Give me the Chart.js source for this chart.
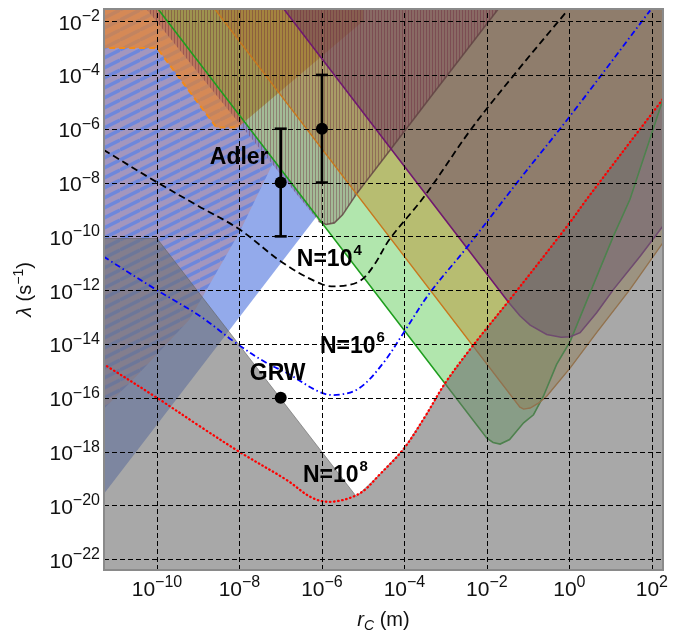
<!DOCTYPE html>
<html>
<head>
<meta charset="utf-8">
<script src="https://cdn.jsdelivr.net/npm/chart.js@4.4.0/dist/chart.umd.min.js"></script>
<style>
  html, body { margin: 0; padding: 0; background: #fff; }
  #wrap { width: 681px; height: 635px; }
</style>
</head>
<body>
<div id="wrap"><canvas id="chart" width="681" height="635"></canvas></div>
<script>
// all values are exponents: [log10 rC (m), log10 lambda (s^-1)]
const xTickExp = [-10, -8, -6, -4, -2, 0, 2];
const yTickExp = [-22, -20, -18, -16, -14, -12, -10, -8, -6, -4, -2];
const xRange = [-11.285, 2.27];
const yRange = [-22.4, -1.55];

// N-cluster curves
const curveN4 = [[-11.3, -6.78], [-10, -7.99], [-9, -8.87], [-8, -9.74], [-6.95, -10.98], [-6, -11.78],
  [-5.57, -11.85], [-5.08, -11.66], [-4.75, -11.1], [-4.36, -10.11], [-3.51, -8.5], [-2.38, -6.01],
  [-1.29, -3.9], [-0.06, -1.63]];
const curveN6 = [[-11.3, -10.75], [-10, -12.0], [-8.96, -12.96], [-8.07, -13.98], [-7.35, -14.7],
  [-6.86, -15.07], [-6.0, -15.82], [-5.57, -15.88], [-5.08, -15.63], [-4.51, -14.7], [-4.02, -13.58],
  [-3.38, -12.09], [-2.49, -10.42], [-1.2, -7.87], [0.02, -5.52], [1.96, -1.6]];
const curveN8 = [[-11.3, -14.74], [-10, -16], [-8.96, -17.06], [-8, -18.01], [-6.86, -19.05],
  [-6.22, -19.73], [-5.73, -19.86], [-5.08, -19.55], [-4.6, -18.85], [-4.02, -17.9], [-3.5, -16.7],
  [-3.01, -15.45], [-2.37, -14.12], [-1.44, -12.34], [-0.02, -9.55], [0.42, -8.62], [2.3, -4.83]];

// excluded / bounded regions
const grayRegion = [[-12, -10.08], [-10, -10.08], [-5.17, -19.66], [-5.08, -19.55], [-4.6, -18.85],
  [-4.02, -17.9], [-3.5, -16.7], [-3.01, -15.45], [-2.37, -14.12], [-1.44, -12.34], [-0.02, -9.55],
  [0.42, -8.62], [2.3, -4.83], [3, -3.4], [3, -24], [-12, -24]];
const blueRegion = [[-12, -21], [-6.125, -9.25], [-10.25, -1.0], [-12, -1.0]];
const stripedRegion = [[-12, -1.0], [-12, -17.5], [-10.5, -15.2], [-9.21, -13.09], [-8, -9.85],
  [-7.2, -7.32], [-10.55, -1.0]];
const orangeRegion = [[-12, -1.0], [-12, -3], [-10, -3], [-8.56, -5.95], [-8.04, -5.95], [-5, -2.0], [-5, -1.0]];
const orangeEdge = [[-11.4, -3], [-10, -3], [-8.56, -5.95], [-8.04, -5.95]];
const greenRegion = [[-10.25, -1.0], [-2.0, -17.5], [-1.85, -17.66], [-1.68, -17.72], [-1.45, -17.55],
  [-1.11, -16.93], [-0.87, -16.63], [-0.63, -15.94], [-0.31, -14.76], [0.02, -13.9], [0.5, -12.1],
  [1.07, -9.98], [1.47, -8.62], [2.27, -4.9], [2.7, -3.2], [3, -1.0]];
const amberRegion = [[-8.875, -1.0], [-1.2, -16.35], [-1.11, -16.42], [-0.95, -16.38], [-0.75, -16.2],
  [-0.55, -15.94], [0.02, -14.89], [0.66, -13.58], [1.47, -11.97], [2.27, -10.23], [3, -8.7], [3, -1.0]];
const purpleRegion = [[-7.2, -1.0], [-1.48, -12.44], [-1.2, -12.95], [-0.95, -13.3], [-0.55, -13.65],
  [-0.2, -13.75], [0.02, -13.73], [0.26, -13.58], [0.66, -12.84], [1.07, -11.97], [1.72, -10.73],
  [2.27, -9.61], [3, -8.2], [3, -1.0]];
const hatchedEdge = [[-6.08, -9.44], [-5.9, -9.56], [-5.7, -9.5], [-5.5, -9.2], [-5.17, -8.44],
  [-4.36, -6.82], [-3.31, -4.71], [-2.26, -2.62], [-1.45, -1.0]];
const hatchedRegion = [[-10.55, -1.0]].concat(hatchedEdge);

// Adler and GRW values
const adlerPoints = [[-7, -8], [-6, -6]];
const adlerBars = [[[-7, -10], [-7, -6]], [[-6, -8], [-6, -4]]];
const grwPoint = [[-7, -16]];

const textLabels = [
  { text: 'Adler', sup: '', x: -8.72, y: -7.31 },
  { text: 'GRW', sup: '', x: -7.75, y: -15.32 },
  { text: 'N=10', sup: '4', x: -6.61, y: -11.11 },
  { text: 'N=10', sup: '6', x: -6.05, y: -14.35 },
  { text: 'N=10', sup: '8', x: -6.46, y: -19.12 }
];

const FONT = '"Liberation Sans", Arial, sans-serif';

const pts = arr => arr.map(([a, b]) => ({ x: 10 ** a, y: 10 ** b }));

function stripePattern() {
  const c = document.createElement('canvas');
  c.width = 20; c.height = 10;
  const g = c.getContext('2d');
  g.fillStyle = 'rgba(200,110,95,0.32)';
  g.fillRect(0, 0, 20, 10);
  g.lineWidth = 3.5;
  g.globalCompositeOperation = 'destination-out';
  for (let k = -1; k <= 1; k++) {
    g.beginPath(); g.moveTo(0, 10 + 10 * k); g.lineTo(20, 10 * k); g.stroke();
  }
  g.globalCompositeOperation = 'source-over';
  g.strokeStyle = 'rgba(40,70,190,0.35)';
  for (let k = -1; k <= 1; k++) {
    g.beginPath(); g.moveTo(0, 10 + 10 * k); g.lineTo(20, 10 * k); g.stroke();
  }
  return g.createPattern(c, 'repeat');
}

function hatchPattern() {
  const c = document.createElement('canvas');
  c.width = 3; c.height = 1;
  const g = c.getContext('2d');
  g.fillStyle = 'rgba(115,35,70,0.22)';
  g.fillRect(0, 0, 3, 1);
  g.clearRect(0, 0, 1, 1);
  g.fillStyle = 'rgba(105,30,60,0.5)';
  g.fillRect(0, 0, 1, 1);
  return g.createPattern(c, 'repeat');
}

function region(arr, color, extra) {
  return Object.assign({
    data: pts(arr), backgroundColor: color, borderColor: 'rgba(0,0,0,0)', borderWidth: 1,
    fill: 'shape', pointRadius: 0, tension: 0
  }, extra || {});
}

function outline(arr, color, width, extra) {
  return Object.assign({
    data: pts(arr), borderColor: color, borderWidth: width, fill: false, pointRadius: 0, tension: 0
  }, extra || {});
}

function curve(arr, color, dash, width, cap) {
  return {
    data: pts(arr), borderColor: color, borderWidth: width, borderDash: dash, borderCapStyle: cap || 'butt',
    fill: false, pointRadius: 0, tension: 0.35
  };
}

// bottom to top
const layers = [
  region(blueRegion, 'rgba(40,85,215,0.5)'),
  region(stripedRegion, stripePattern()),
  region(orangeRegion, 'rgba(240,130,30,0.65)'),
  region(greenRegion, 'rgba(50,190,40,0.38)'),
  region(amberRegion, 'rgba(190,140,40,0.45)'),
  region(purpleRegion, 'rgba(103,61,103,0.5)'),
  region(hatchedRegion, hatchPattern()),
  outline(orangeEdge, '#f08a1a', 2, { borderDash: [6, 4] }),
  outline(hatchedEdge, 'rgba(95,65,65,0.8)', 1.6),
  outline(greenRegion.slice(0, 15), '#1e9e1e', 1.6),
  outline(amberRegion.slice(0, 11), '#c8781e', 1.4),
  outline(purpleRegion.slice(0, 13), '#701870', 1.6),
  region(grayRegion, 'rgba(110,110,110,0.6)', { borderColor: 'rgba(100,100,100,0.6)' }),
  curve(curveN4, '#000', [7, 4], 1.8),
  curve(curveN6, '#0000ff', [6, 3, 1.5, 3], 1.8),
  curve(curveN8, '#ff0000', [0.5, 3.6], 2.3, 'round')
];
adlerBars.forEach(b => layers.push({
  data: pts(b), borderColor: '#000', borderWidth: 2.6, fill: false, tension: 0,
  pointStyle: 'line', pointRadius: 6, pointBorderWidth: 2.6, pointBorderColor: '#000'
}));
layers.push({
  data: pts(adlerPoints.concat(grwPoint)), showLine: false, pointRadius: 6,
  pointBackgroundColor: '#000', pointBorderColor: '#000', pointBorderWidth: 0
});
layers.forEach((d, i) => { d.order = layers.length - i; });

// dashed grid drawn over the filled regions
const gridOver = {
  id: 'gridOver',
  afterDatasetsDraw(chart) {
    const { ctx, chartArea: a, scales: { x, y } } = chart;
    ctx.save();
    ctx.beginPath();
    ctx.rect(a.left, a.top, a.right - a.left, a.bottom - a.top);
    ctx.clip();
    ctx.strokeStyle = '#000';
    ctx.lineWidth = 1;
    ctx.setLineDash([5, 3]);
    xTickExp.forEach(e => {
      const px = Math.round(x.getPixelForValue(10 ** e)) + 0.5;
      ctx.beginPath(); ctx.moveTo(px, a.bottom); ctx.lineTo(px, a.top); ctx.stroke();
    });
    yTickExp.forEach(e => {
      const py = Math.round(y.getPixelForValue(10 ** e)) + 0.5;
      ctx.beginPath(); ctx.moveTo(a.left, py); ctx.lineTo(a.right, py); ctx.stroke();
    });
    ctx.restore();
  }
};

const overlay = {
  id: 'overlay',
  afterDraw(chart) {
    const { ctx, chartArea: a, scales: { x, y } } = chart;
    ctx.save();
    ctx.strokeStyle = '#8a8a8a';
    ctx.lineWidth = 2;
    ctx.strokeRect(a.left, a.top, a.right - a.left, a.bottom - a.top);

    ctx.fillStyle = '#111';
    ctx.textBaseline = 'alphabetic';
    ctx.textAlign = 'left';
    const expText = e => (e < 0 ? '\u2212' : '') + Math.abs(e);

    yTickExp.forEach(e => {
      const py = y.getPixelForValue(10 ** e);
      ctx.font = '16px ' + FONT;
      const we = ctx.measureText(expText(e)).width;
      ctx.font = '21px ' + FONT;
      const wb = ctx.measureText('10').width;
      const right = a.left - 4;
      ctx.fillText('10', right - we - wb, py + 8.5);
      ctx.font = '16px ' + FONT;
      ctx.fillText(expText(e), right - we, py);
    });

    xTickExp.forEach(e => {
      const px = x.getPixelForValue(10 ** e);
      ctx.font = '16px ' + FONT;
      const we = ctx.measureText(expText(e)).width;
      ctx.font = '21px ' + FONT;
      const wb = ctx.measureText('10').width;
      const left = px - (we + wb) / 2;
      ctx.fillText('10', left, a.bottom + 26);
      ctx.font = '16px ' + FONT;
      ctx.fillText(expText(e), left + wb, a.bottom + 17);
    });

    // x title: r_C (m)
    ctx.font = 'italic 20px ' + FONT;
    const wr = ctx.measureText('r').width;
    ctx.font = 'italic 14px ' + FONT;
    const wc = ctx.measureText('C').width;
    ctx.font = '20px ' + FONT;
    const wm = ctx.measureText(' (m)').width;
    let tx = (a.left + a.right) / 2 - (wr + wc + wm) / 2;
    const ty = a.bottom + 56;
    ctx.font = 'italic 20px ' + FONT; ctx.fillText('r', tx, ty); tx += wr;
    ctx.font = 'italic 14px ' + FONT; ctx.fillText('C', tx, ty + 4); tx += wc;
    ctx.font = '20px ' + FONT; ctx.fillText(' (m)', tx, ty);

    // y title: lambda (s^-1)
    ctx.save();
    ctx.translate(31, (a.top + a.bottom) / 2);
    ctx.rotate(-Math.PI / 2);
    ctx.font = 'italic 20px ' + FONT;
    const wl = ctx.measureText('\u03bb').width;
    ctx.font = '20px ' + FONT;
    const ws = ctx.measureText(' (s').width;
    ctx.font = '14px ' + FONT;
    const wx = ctx.measureText('\u22121').width;
    ctx.font = '20px ' + FONT;
    const wp = ctx.measureText(')').width;
    let ux = -(wl + ws + wx + wp) / 2;
    ctx.font = 'italic 20px ' + FONT; ctx.fillText('\u03bb', ux, 0); ux += wl;
    ctx.font = '20px ' + FONT; ctx.fillText(' (s', ux, 0); ux += ws;
    ctx.font = '14px ' + FONT; ctx.fillText('\u22121', ux, -8); ux += wx;
    ctx.font = '20px ' + FONT; ctx.fillText(')', ux, 0);
    ctx.restore();

    // annotations
    ctx.fillStyle = '#000';
    textLabels.forEach(l => {
      const px = x.getPixelForValue(10 ** l.x);
      const py = y.getPixelForValue(10 ** l.y);
      ctx.font = 'bold 23px ' + FONT;
      ctx.fillText(l.text, px, py);
      if (l.sup) {
        const w = ctx.measureText(l.text).width;
        ctx.font = 'bold 15px ' + FONT;
        ctx.fillText(l.sup, px + w + 1, py - 11);
      }
    });
    ctx.restore();
  }
};

function axis(range, ticks, fitProp, fitVal) {
  return {
    type: 'logarithmic',
    min: 10 ** range[0],
    max: 10 ** range[1],
    afterBuildTicks: s => { s.ticks = ticks.map(e => ({ value: 10 ** e })); },
    afterFit: s => { s[fitProp] = fitVal; },
    ticks: { display: false },
    border: { display: false },
    grid: { display: false }
  };
}

new Chart(document.getElementById('chart'), {
  type: 'line',
  data: { datasets: layers },
  options: {
    responsive: false,
    animation: false,
    events: [],
    layout: { padding: { left: 0, right: 18, top: 9, bottom: 0 } },
    plugins: { legend: { display: false }, tooltip: { enabled: false } },
    scales: {
      x: axis(xRange, xTickExp, 'height', 65),
      y: axis(yRange, yTickExp, 'width', 104)
    }
  },
  plugins: [gridOver, overlay]
});
</script>
</body>
</html>
